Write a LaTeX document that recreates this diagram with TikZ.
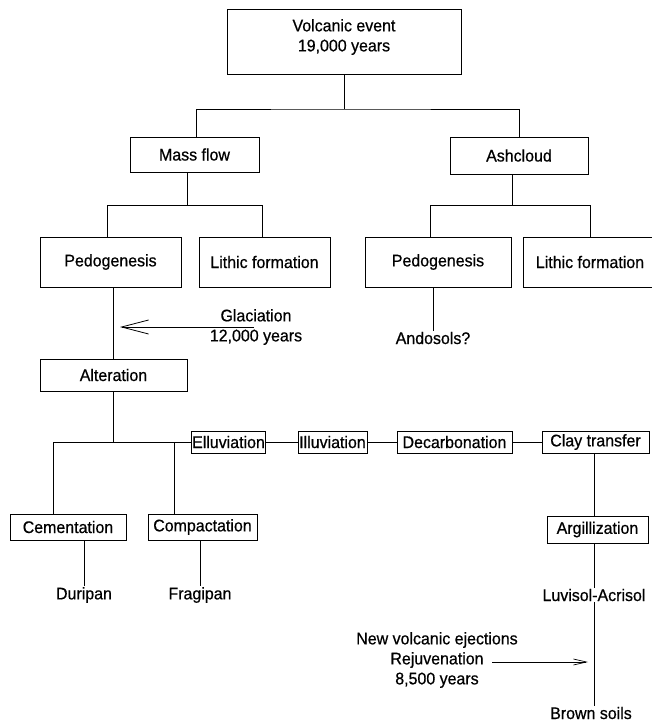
\documentclass[tikz,border=0pt]{standalone}
\usepackage{fontspec}
\setmainfont{Liberation Sans}[FakeStretch=0.95,FakeBold=0.6]
\usetikzlibrary{arrows.meta}
\begin{document}
\begin{tikzpicture}[x=1pt,y=-1pt,
  every node/.style={font=\fontsize{16.8}{20}\selectfont, inner sep=1pt},
  box/.style={draw, line width=0.9pt, align=center},
  conn/.style={line width=0.8pt},
  glarrow/.style={line width=0.8pt, -{Straight Barb[length=27pt,width=14pt,line width=0.8pt]}},
  rjarrow/.style={line width=0.7pt, -{Straight Barb[length=13pt,width=6pt,line width=0.7pt]}}
]
\useasboundingbox (0,0) rectangle (652,723);

% boxes
\node[box, minimum width=234pt, minimum height=65pt] (volc) at (344,41.5) {};
\node[align=center] (volct) at (344,37) {Volcanic event\\19,000 years};
\node[box, minimum width=129pt, minimum height=35pt] (mass) at (194.5,154.5) {Mass flow};
\node[box, minimum width=138pt, minimum height=37pt] (ash) at (519,155.5) {Ashcloud};
\node[box, minimum width=141pt, minimum height=50pt] (pedL) at (110.5,262) {Pedogenesis};
\node[box, minimum width=131pt, minimum height=50pt] (lithL) at (264.5,262) {Lithic formation};
\node[box, minimum width=146pt, minimum height=50pt] (pedR) at (438,262) {Pedogenesis};
\node[box, minimum width=134pt, minimum height=50pt] (lithR) at (590,262) {Lithic formation};
\node[box, minimum width=147pt, minimum height=32pt] (alt) at (113.5,375) {Alteration};
\node[box, minimum width=73pt, minimum height=22pt] (ell) at (228.5,442) {Elluviation};
\node[box, minimum width=69pt, minimum height=22pt] (ill) at (332.5,442) {Illuviation};
\node[box, minimum width=115pt, minimum height=22pt] (dec) at (454.5,442) {Decarbonation};
\node[box, minimum width=107pt, minimum height=22pt] (clay) at (595.5,442) {Clay transfer};
\node[box, minimum width=116pt, minimum height=26pt] (cem) at (68,527) {Cementation};
\node[box, minimum width=109pt, minimum height=26pt] (comp) at (202.5,527) {Compactation};
\node[box, minimum width=101pt, minimum height=27pt] (arg) at (597.5,529.5) {Argillization};

% plain labels
\node[align=center] (glac) at (256,327) {Glaciation\\12,000 years};
\node (ando) at (433,338) {Andosols?};
\node (duri) at (84,595) {Duripan};
\node (frag) at (200,595) {Fragipan};
\node (luv) at (594,595) {Luvisol-Acrisol};
\node (brown) at (591,713) {Brown soils};
\node[align=center] (newv) at (437,660) {New volcanic ejections\\Rejuvenation\\8,500 years};

% junction coordinates
\coordinate (j1) at (344,109);
\coordinate (j2) at (187,205);
\coordinate (j3) at (512,205);
\coordinate (j4) at (113,442);
\coordinate (b1) at (53,442);
\coordinate (b2) at (174,442);
\coordinate (p1) at (107,205);
\coordinate (p2) at (262,205);
\coordinate (p3) at (430,205);
\coordinate (p4) at (590,205);
\coordinate (gstart) at (254,327);
\coordinate (gtip) at (120,327);
\coordinate (rstart) at (492,662);
\coordinate (rtip) at (588,662);

% connectors
\draw[conn] (volc.south -| j1) -- (j1);
\draw[conn] (mass.north -| 196,0) |- (j1) -| (ash.north);
\draw[conn] (mass.south -| j2) -- (j2);
\draw[conn] (ash.south -| j3) -- (j3);
\draw[conn] (p1 |- pedL.north) -- (p1) -- (p2) -- (p2 |- lithL.north);
\draw[conn] (p3 |- pedR.north) -- (p3) -- (p4) -- (p4 |- lithR.north);
\draw[conn] (pedL.south -| alt.north) -- (alt.north);
\draw[glarrow] (gstart) -- (gtip);
\draw[conn] (pedR.south -| ando) -- (ando.north);
\draw[conn] (alt.south -| j4) -- (j4);
\draw[conn] (b1 |- cem.north) -- (b1) -- (ell.west);
\draw[conn] (b2) -- (b2 |- comp.north);
\draw[conn] (ell) -- (ill);
\draw[conn] (ill) -- (dec);
\draw[conn] (dec) -- (clay);
\draw[conn] (clay.south -| luv) -- (luv |- arg.north);
\draw[conn] (cem.south -| duri) -- (duri.north);
\draw[conn] (comp.south -| frag) -- (frag.north);
\draw[conn] (arg.south -| luv) -- (luv.north);
\draw[conn] (luv.south) -- (luv |- brown.north);
\draw[rjarrow] (rstart) -- (rtip);
\end{tikzpicture}
\end{document}
